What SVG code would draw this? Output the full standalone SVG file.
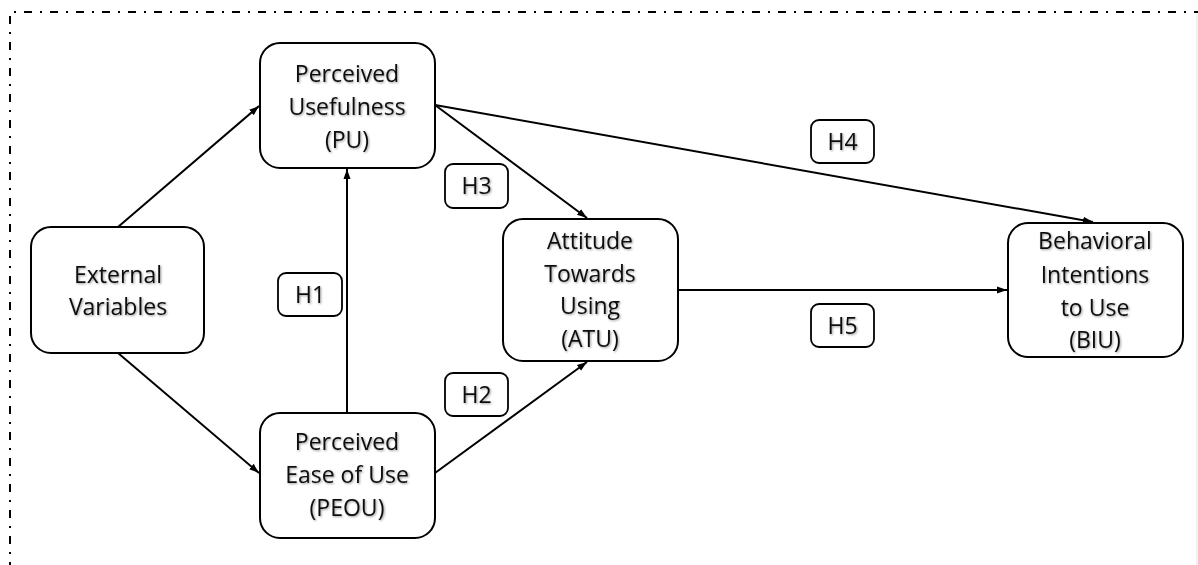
<svg xmlns="http://www.w3.org/2000/svg" width="1198" height="565" viewBox="0 0 1198 565">
<style>
.box{fill:#fff;stroke:#000;stroke-width:2}
.lbl{fill:#fff;stroke:#000;stroke-width:1.8}
.t{font-family:"Open Sans","Liberation Sans",sans-serif;font-size:23px;fill:#111;text-anchor:middle;filter:url(#sh)}
.c{fill:none;stroke:#000;stroke-width:2}
.border{fill:none;stroke:#000;stroke-width:2;stroke-dasharray:8 8 2 8}
</style>
<defs>
<marker id="ah" viewBox="0 0 10 10" refX="10" refY="5" markerWidth="5" markerHeight="5" orient="auto" markerUnits="strokeWidth">
<path d="M0,1.5 L10,5 L0,8.5 z" fill="#000"/>
</marker>
<filter id="sh" x="-10%" y="-20%" width="120%" height="140%">
<feDropShadow dx="1" dy="1" stdDeviation="0.8" flood-color="#000" flood-opacity="0.4"/>
</filter>
</defs>
<rect width="1198" height="565" fill="#fff"/>
<path class="border" d="M10,570 L10,12 L1200,12"/>
<line x1="1197" y1="14" x2="1197" y2="565" stroke="#e6e6e6" stroke-width="1"/>

<g id="connectors">
<path class="c" d="M118,227 L259,106" marker-end="url(#ah)"/>
<path class="c" d="M118,353 L259,473" marker-end="url(#ah)"/>
<path class="c" d="M347,413 L347,169" marker-end="url(#ah)"/>
<path class="c" d="M435,105 L587,218" marker-end="url(#ah)"/>
<path class="c" d="M435,105 L1093,222" marker-end="url(#ah)"/>
<path class="c" d="M435,473 L587,362" marker-end="url(#ah)"/>
<path class="c" d="M678,290 L1007,290" marker-end="url(#ah)"/>
</g>

<g id="ext">
<rect class="box" x="31" y="227" width="173" height="126" rx="20"/>
<text class="t" x="118" y="283">External</text>
<text class="t" x="118" y="315">Variables</text>
</g>
<g id="pu">
<rect class="box" x="260" y="43" width="175" height="125" rx="20"/>
<text class="t" x="347" y="82">Perceived</text>
<text class="t" x="347" y="115">Usefulness</text>
<text class="t" x="347" y="148">(PU)</text>
</g>
<g id="peou">
<rect class="box" x="260" y="413" width="175" height="125" rx="20"/>
<text class="t" x="347" y="450">Perceived</text>
<text class="t" x="347" y="483">Ease of Use</text>
<text class="t" x="347" y="516">(PEOU)</text>
</g>
<g id="atu">
<rect class="box" x="503" y="219" width="175" height="142" rx="20"/>
<text class="t" x="590" y="249">Attitude</text>
<text class="t" x="590" y="282">Towards</text>
<text class="t" x="590" y="314">Using</text>
<text class="t" x="590" y="347">(ATU)</text>
</g>
<g id="biu">
<rect class="box" x="1008" y="223" width="175" height="134" rx="20"/>
<text class="t" x="1095" y="249">Behavioral</text>
<text class="t" x="1095" y="283">Intentions</text>
<text class="t" x="1095" y="316">to Use</text>
<text class="t" x="1095" y="348">(BIU)</text>
</g>
<g id="h1">
<rect class="lbl" x="278" y="273" width="64" height="43" rx="8"/>
<text class="t" x="310" y="303">H1</text>
</g>
<g id="h2">
<rect class="lbl" x="445" y="373" width="63" height="43" rx="8"/>
<text class="t" x="476.5" y="403">H2</text>
</g>
<g id="h3">
<rect class="lbl" x="445" y="164" width="63" height="44" rx="8"/>
<text class="t" x="476.5" y="194">H3</text>
</g>
<g id="h4">
<rect class="lbl" x="811" y="120" width="63" height="43" rx="8"/>
<text class="t" x="842.5" y="150">H4</text>
</g>
<g id="h5">
<rect class="lbl" x="811" y="304" width="63" height="43" rx="8"/>
<text class="t" x="842.5" y="334">H5</text>
</g>
</svg>
